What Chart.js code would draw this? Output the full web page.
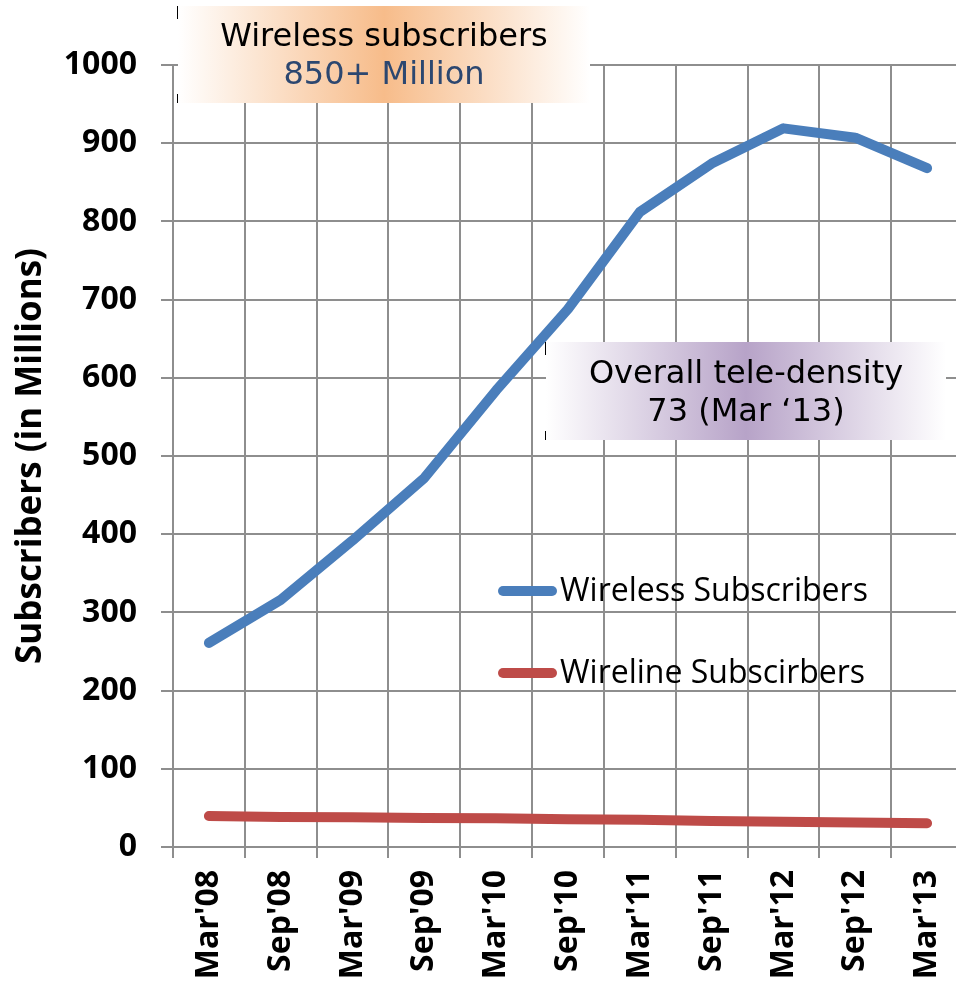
<!DOCTYPE html>
<html>
<head>
<meta charset="utf-8">
<script src="https://cdn.jsdelivr.net/npm/chart.js@4"></script>
<style>
  html, body { margin: 0; padding: 0; background: #fff; overflow: hidden; }
  #wrap { position: relative; width: 966px; height: 983px; }
</style>
</head>
<body>
<div id="wrap"><canvas id="chart" width="966" height="983"></canvas></div>
<script>
// subscriber figures, millions
var periods = ["Mar'08", "Sep'08", "Mar'09", "Sep'09", "Mar'10", "Sep'10",
               "Mar'11", "Sep'11", "Mar'12", "Sep'12", "Mar'13"];
var wireless = [261, 316, 392, 472, 584, 688, 812, 874, 919, 907, 868];
var wireline = [39.6, 38.5, 38.0, 37.2, 36.9, 35.6, 34.7, 33.2, 32.2, 31.2, 30.4];
var seriesNames = ['Wireless Subscribers', 'Wireline Subscirbers'];
var yTicks = [0, 100, 200, 300, 400, 500, 600, 700, 800, 900, 1000];

var gridColor = '#8e8e8e';
var boldFont = { family: 'Open Sans', weight: 'bold', size: 32 };

// gradient text boxes laid over the plot (Excel-style callouts)
function drawCallout(ctx, box, rgb, lines) {
  var g = ctx.createLinearGradient(box.x, 0, box.x + box.w, 0);
  g.addColorStop(0, 'rgba(255,255,255,1)');
  g.addColorStop(0.5, 'rgb(' + rgb + ')');
  g.addColorStop(1, 'rgba(255,255,255,1)');
  ctx.fillStyle = g;
  ctx.fillRect(box.x, box.y, box.w, box.h);
  // little black marks left on the box edge
  ctx.fillStyle = '#000';
  ctx.fillRect(box.x - 1, box.y, 1, 13);
  ctx.fillRect(box.x - 1, box.y + box.h - 9, 1, 9);
  ctx.font = '32px "DejaVu Sans"';
  ctx.textAlign = 'center';
  ctx.textBaseline = 'middle';
  lines.forEach(function (l) {
    ctx.fillStyle = l.color;
    ctx.fillText(l.text, box.x + box.w / 2, l.y);
  });
}

var overlays = {
  id: 'overlays',
  afterDraw: function (chart) {
    var ctx = chart.ctx;
    ctx.save();
    drawCallout(ctx, { x: 178, y: 6, w: 412, h: 97 }, '247,188,138', [
      { text: 'Wireless subscribers', y: 38, color: '#000' },
      { text: '850+ Million', y: 76, color: '#2c4770' }
    ]);
    drawCallout(ctx, { x: 546, y: 342, w: 400, h: 98 }, '183,163,200', [
      { text: 'Overall tele-density', y: 375, color: '#000' },
      { text: '73 (Mar \u201813)', y: 413, color: '#000' }
    ]);

    // legend inside the plot
    var rows = [591, 673];
    chart.data.datasets.forEach(function (ds, i) {
      ctx.strokeStyle = ds.borderColor;
      ctx.lineWidth = 10;
      ctx.lineCap = 'round';
      ctx.beginPath();
      ctx.moveTo(503, rows[i]);
      ctx.lineTo(552, rows[i]);
      ctx.stroke();
      ctx.fillStyle = '#000';
      ctx.font = '32px "Open Sans"';
      ctx.textAlign = 'left';
      ctx.textBaseline = 'middle';
      ctx.fillText(ds.label, 560, rows[i] + 1);
    });
    ctx.restore();
  }
};

new Chart(document.getElementById('chart'), {
  type: 'line',
  data: {
    labels: periods,
    datasets: [
      {
        label: seriesNames[0],
        data: wireless,
        borderColor: '#4a7ebb',
        borderWidth: 10,
        borderCapStyle: 'round',
        borderJoinStyle: 'round',
        pointRadius: 0,
        tension: 0,
      },
      {
        label: seriesNames[1],
        data: wireline,
        borderColor: '#be4b48',
        borderWidth: 10,
        borderCapStyle: 'round',
        borderJoinStyle: 'round',
        pointRadius: 0,
        tension: 0,
      },
    ],
  },
  options: {
    responsive: false,
    animation: false,
    layout: { padding: { top: 65, right: 3, left: 0, bottom: 0 } },
    plugins: { legend: { display: false }, tooltip: { enabled: false } },
    scales: {
      x: {
        offset: true,
        grid: { offset: true, color: gridColor, lineWidth: 2, tickLength: 11, tickColor: gridColor },
        border: { color: gridColor, width: 2 },
        ticks: {
          color: '#000',
          font: boldFont,
          minRotation: 90,
          maxRotation: 90,
          padding: 12,
          autoSkip: false,
        },
        afterFit: function (s) {
          s.height = 136;
          s.paddingLeft = 0;
          s.paddingRight = 0;
        },
      },
      y: {
        min: 0,
        max: 1000,
        afterBuildTicks: function (s) {
          s.ticks = yTicks.map(function (v) { return { value: v }; });
        },
        grid: { color: gridColor, lineWidth: 2, tickLength: 12, tickColor: gridColor },
        border: { color: gridColor, width: 2 },
        ticks: {
          color: '#000',
          font: boldFont,
          padding: 24,
          callback: function (value) { return String(value); },
        },
        title: {
          display: true,
          text: 'Subscribers (in Millions)',
          color: '#000',
          font: { family: 'Open Sans', weight: 'bold', size: 35 },
          padding: { top: 10, bottom: 0 },
        },
        afterFit: function (s) { s.width = 173; },
      },
    },
  },
  plugins: [overlays],
});
</script>
</body>
</html>
